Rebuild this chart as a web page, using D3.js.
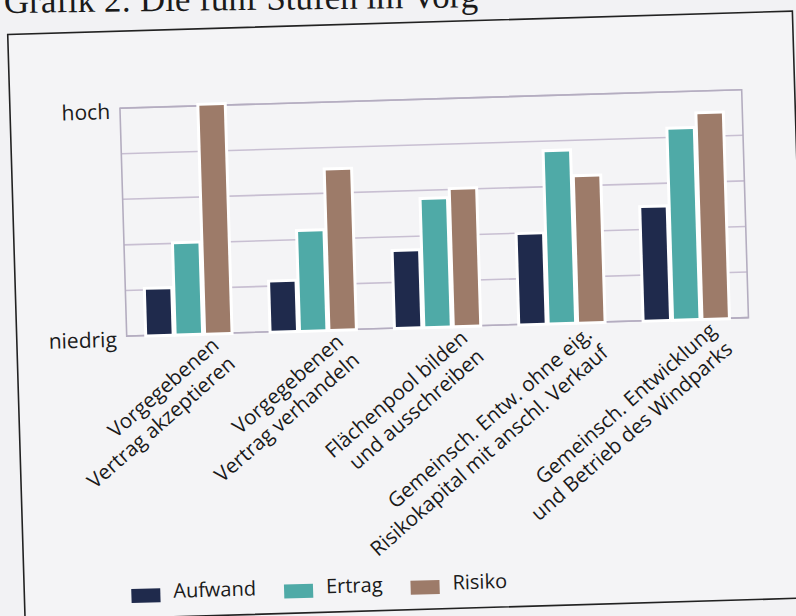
<!DOCTYPE html>
<html>
<head>
<meta charset="utf-8">
<script src="https://cdn.jsdelivr.net/npm/d3@7"></script>
<style>
  html, body { margin: 0; padding: 0; background: #f2f2f4; }
  svg { display: block; }
</style>
</head>
<body>
<script>
// data (0 = niedrig, 5 = hoch)
const categories = [
  ['Vorgegebenen', 'Vertrag akzeptieren'],
  ['Vorgegebenen', 'Vertrag verhandeln'],
  ['Flächenpool bilden', 'und ausschreiben'],
  ['Gemeinsch. Entw. ohne eig.', 'Risikokapital mit anschl. Verkauf'],
  ['Gemeinsch. Entwicklung', 'und Betrieb des Windparks']
]
const series = ['Aufwand', 'Ertrag', 'Risiko']
const aufwand = [1.0, 1.08, 1.67, 1.96, 2.47]
const ertrag = [1.98, 2.17, 2.79, 3.76, 4.17]
const risiko = [5.0, 3.5, 2.99, 3.19, 4.49]
const yLabels = ['niedrig', 'hoch']
const title = 'Grafik 2: Die fünf Stufen im Vorg'

const colors = ['#1f2a4c', '#4faaa7', '#9d7b69']
const values = [aufwand, ertrag, risiko]

let width = 796, height = 616
let plot = { left: 126, right: 748, top: 100, bottom: 328 }

let svg = d3.select('body').append('svg')
  .attr('width', width)
  .attr('height', height)

svg.append('rect')
  .attr('width', width).attr('height', height)
  .attr('fill', '#f2f2f4')

// title, mostly cut off at the top of the scan
svg.append('text')
  .attr('x', 4).attr('y', 13)
  .attr('transform', 'rotate(-0.7, 4, 13)')
  .attr('font-family', '"Liberation Serif", serif')
  .attr('font-size', 35)
  .attr('fill', '#1a1a1a')
  .text(title)

// the page is scanned slightly tilted
let g = svg.append('g').attr('transform', 'rotate(-1.7, 398, 308)')

g.append('rect')
  .attr('x', 16).attr('y', 23)
  .attr('width', 785).attr('height', 587)
  .attr('fill', '#f4f4f6')
  .attr('stroke', '#222')
  .attr('stroke-width', 1.6)

let x0 = d3.scaleBand()
  .domain(d3.range(categories.length))
  .range([plot.left, plot.right])
  .paddingInner(0.33)
  .paddingOuter(0.165)

let x1 = d3.scaleBand()
  .domain(series)
  .range([0, x0.bandwidth()])
  .paddingInner(0.17)

let y = d3.scaleLinear()
  .domain([0, 5])
  .range([plot.bottom, plot.top])

// grid
g.append('g').selectAll('line')
  .data(y.ticks(5))
  .enter().append('line')
  .attr('x1', plot.left).attr('x2', plot.right)
  .attr('y1', d => y(d)).attr('y2', d => y(d))
  .attr('stroke', '#c8bfd2')
  .attr('stroke-width', 1.6)

g.append('rect')
  .attr('x', plot.left).attr('y', plot.top)
  .attr('width', plot.right - plot.left).attr('height', plot.bottom - plot.top)
  .attr('fill', 'none')
  .attr('stroke', '#b4adc0')
  .attr('stroke-width', 1.6)

// bars
let groups = g.append('g').selectAll('g')
  .data(categories)
  .enter().append('g')
  .attr('transform', (d, i) => `translate(${x0(i)},0)`)

groups.selectAll('rect')
  .data((d, i) => series.map((s, j) => ({ s, j, v: values[j][i] })))
  .enter().append('rect')
  .attr('x', d => x1(d.s))
  .attr('y', d => y(d.v))
  .attr('width', x1.bandwidth())
  .attr('height', d => y(0) - y(d.v) - 1)
  .attr('fill', d => colors[d.j])
  .attr('stroke', '#ffffff')
  .attr('stroke-width', 6)
  .attr('paint-order', 'stroke')

// y labels
let yAxis = d3.axisLeft(y)
  .tickValues([0, 5])
  .tickSize(0)
  .tickPadding(10)
  .tickFormat(d => d === 0 ? yLabels[0] : yLabels[1])

g.append('g')
  .attr('transform', `translate(${plot.left},0)`)
  .call(yAxis)
  .call(a => a.select('.domain').remove())
  .call(a => a.selectAll('text')
    .attr('font-family', '"Open Sans", sans-serif')
    .attr('font-size', 21)
    .attr('fill', '#1a1a1a')
    .attr('dy', 10))

// category labels, rotated and right aligned
let labels = g.append('g').selectAll('text')
  .data(categories)
  .enter().append('text')
  .attr('transform', (d, i) => `translate(${x0(i) + x0.bandwidth() / 2 + 31},${plot.bottom + 14}) rotate(-39.5)`)
  .attr('text-anchor', 'end')
  .attr('font-family', '"Open Sans", sans-serif')
  .attr('font-size', 20.5)
  .attr('fill', '#1a1a1a')

labels.selectAll('tspan')
  .data(d => d)
  .enter().append('tspan')
  .attr('x', 0)
  .attr('dy', (d, i) => i ? 24.5 : 0)
  .text(d => d)

// legend
let lx = 123
let legend = g.append('g')
series.forEach((s, i) => {
  legend.append('rect')
    .attr('x', lx).attr('y', 581)
    .attr('width', 29).attr('height', 14)
    .attr('fill', colors[i])
  let t = legend.append('text')
    .attr('x', lx + 42).attr('y', 591)
    .attr('font-family', '"Open Sans", sans-serif')
    .attr('font-size', 20)
    .attr('fill', '#1a1a1a')
    .text(s)
  lx += 42 + t.node().getComputedTextLength() + 28
})
</script>
</body>
</html>
